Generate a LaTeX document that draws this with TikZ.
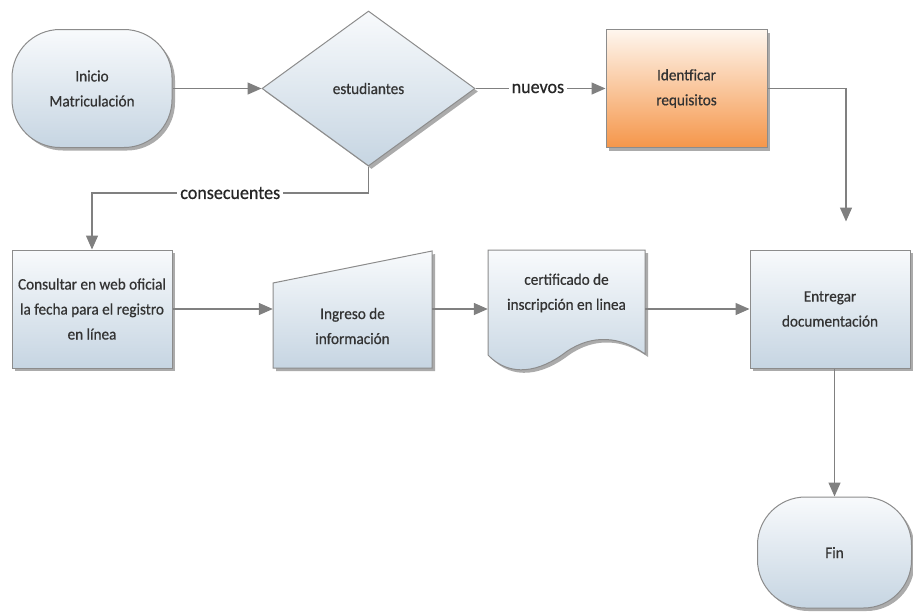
\documentclass[tikz,border=0pt]{standalone}
\usepackage{fontspec}
\setmainfont{Carlito}
\newfontfamily\boxfont[FakeBold=0.6, FakeStretch=0.95]{Carlito}
\usetikzlibrary{shapes.geometric,arrows.meta,shadows,calc}

\definecolor{edgegray}{HTML}{8C8C8C}
\definecolor{flowgray}{HTML}{808080}
\definecolor{boxtop}{HTML}{F8FAFC}
\definecolor{boxbot}{HTML}{C6D5E2}
\definecolor{orgtop}{HTML}{FEF6EE}
\definecolor{orgbot}{HTML}{F5964A}
\definecolor{txtgray}{HTML}{333333}

\tikzset{
  boxshade/.style={draw=edgegray, line width=1pt, top color=boxtop, bottom color=boxbot,
    drop shadow={shadow xshift=3pt, shadow yshift=-3pt, fill=black!60, opacity=0.55}},
  box/.style={boxshade, text=txtgray, align=center,
    font=\boxfont\fontsize{16}{25}\selectfont, minimum width=160pt, minimum height=118pt, inner sep=0pt},
  orangebox/.style={box, top color=orgtop, bottom color=orgbot},
  terminal/.style={box, rounded corners=48pt},
  decision/.style={box, diamond, minimum width=213pt, minimum height=155pt},
  textonly/.style={text=txtgray, align=center, font=\boxfont\fontsize{16}{25}\selectfont, inner sep=0pt},
  frame/.style={minimum width=160pt, minimum height=118pt, inner sep=0pt},
  flow/.style={draw=flowgray, line width=1.4pt, -{Triangle[length=14pt,width=12pt]}},
  lbl/.style={fill=white, text=black!85, font=\boxfont\fontsize{19}{22}\selectfont, inner sep=3pt}
}

\begin{document}
\begin{tikzpicture}[x=1pt, y=-1pt]
\useasboundingbox (0,0) rectangle (913,614);

% first row
\node[terminal] (inicio) at (92,88.5) {Inicio\\Matriculación};
\node[decision] (dec) at (368.5,88.5) {estudiantes};
\node[orangebox, minimum width=161pt] (ident) at (686.5,88.5) {Identficar\\requisitos};

% second row
\node[box] (consultar) at (92,309) {Consultar en web oficial\\la fecha para el registro\\en línea};

% manual input shape
\path[boxshade] (273,368) -- (273,283) -- (432,251) -- (432,368) -- cycle;
\node[frame, minimum width=159pt] (ingreso) at (352.5,309) {};
\node[textonly] (ingresotxt) at (352.5,326) {Ingreso de\\información};

% document shape
\path[boxshade] (488,250) -- (645,250) -- (645,354)
  .. controls (620,336) and (592,334) .. (566,352)
  .. controls (540,372) and (510,378) .. (488,355) -- cycle;
\node[frame, minimum width=157pt] (cert) at (566.5,309) {};
\node[textonly] (certtxt) at (566.5,293) {certificado de\\inscripción en linea};

\node[box] (entrega) at (830,309) {Entregar\\documentación};

% end
\node[terminal, minimum width=154pt, minimum height=111pt] (fin) at (834.5,552.5) {\raisebox{-8pt}{Fin}};

% connectors
\draw[flow] (inicio.east) -- (dec.west);
\draw[flow] (dec.east) -- node[lbl, pos=0.48] {nuevos} (ident.west);
\coordinate (split) at (368.5,193);
\draw[flow] (dec.south) -- (split) -- node[lbl] {consecuentes} (split -| consultar.north) -- (consultar.north);
\draw[flow] (consultar.east) -- (ingreso.west);
\draw[flow] (ingreso.east) -- (cert.west);
\draw[flow] (cert.east) -- (entrega.west);
\draw[flow, shorten >=28pt] (ident.east) -| ($(entrega.north)+(16,0)$);
\draw[flow] (fin.north |- entrega.south) -- (fin.north);
\end{tikzpicture}
\end{document}
